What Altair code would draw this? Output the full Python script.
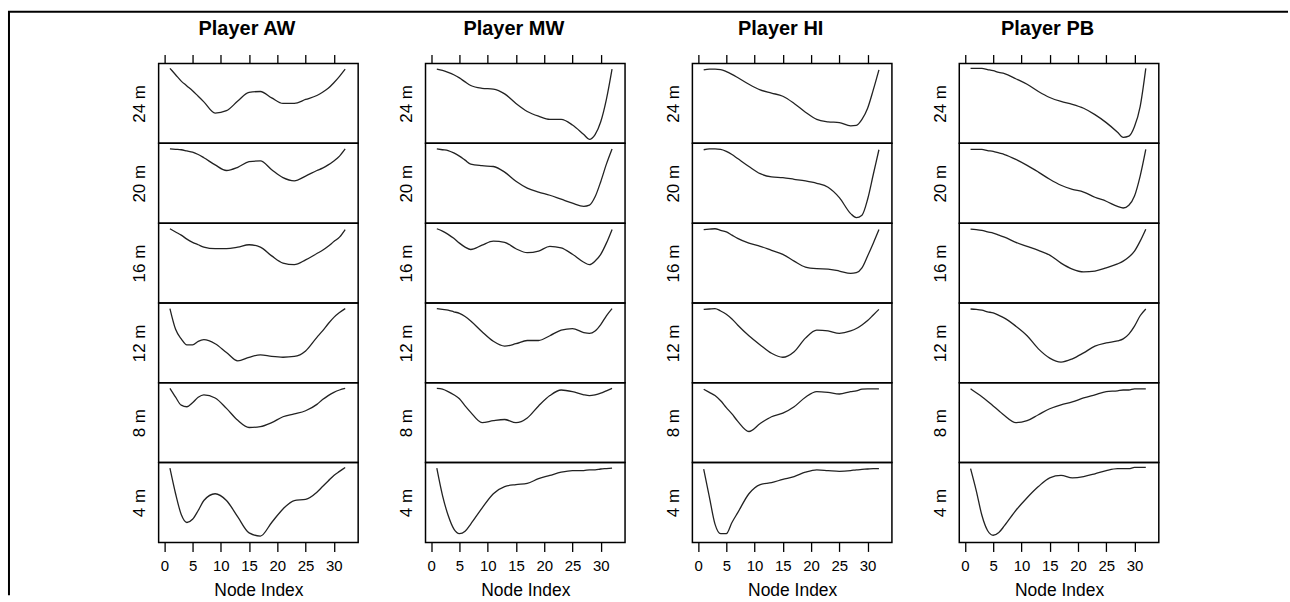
import altair as alt
import pandas as pd

# Players (columns) and the distances (rows) at which each profile was measured
players = ["AW", "MW", "HI", "PB"]
distances = ["24 m", "20 m", "16 m", "12 m", "8 m", "4 m"]

# Node indices at which each smoothed profile is sampled
nodes = [1, 2, 3, 4, 5, 6, 7, 9, 11, 13, 15, 17, 19, 21, 23, 25, 27, 28, 29, 30, 31, 32]
x_ticks = [0, 5, 10, 15, 20, 25, 30]

# Normalised profile values per distance (same order as `nodes`)
aw = {
    "24 m": [.94, .86, .78, .72, .66, .59, .52, .38, .41, .53, .64, .65, .57, .50, .50, .55, .60, .64, .69, .76, .84, .93],
    "20 m": [.93, .925, .92, .905, .89, .86, .82, .73, .66, .70, .77, .78, .67, .57, .53, .59, .66, .69, .73, .78, .84, .93],
    "16 m": [.93, .89, .85, .80, .76, .73, .70, .68, .68, .70, .73, .70, .59, .50, .48, .54, .62, .66, .71, .77, .825, .92],
    "12 m": [.93, .67, .55, .475, .475, .52, .54, .49, .38, .275, .32, .35, .33, .32, .33, .40, .57, .65, .74, .82, .88, .93],
    "8 m":  [.93, .82, .72, .70, .75, .82, .85, .81, .68, .53, .44, .45, .50, .575, .61, .65, .73, .79, .84, .88, .91, .93],
    "4 m":  [.93, .61, .35, .25, .29, .40, .525, .61, .525, .32, .12, .08, .25, .42, .525, .54, .63, .70, .77, .84, .89, .94],
}
mw = {
    "24 m": [.93, .915, .89, .86, .82, .77, .725, .69, .68, .62, .50, .40, .34, .30, .30, .23, .11, .05, .11, .27, .55, .93],
    "20 m": [.93, .92, .91, .88, .84, .79, .74, .72, .71, .64, .525, .44, .39, .35, .30, .25, .21, .225, .33, .52, .74, .93],
    "16 m": [.93, .90, .86, .81, .75, .70, .67, .725, .775, .76, .68, .63, .65, .71, .69, .61, .51, .48, .525, .61, .75, .92],
    "12 m": [.93, .92, .91, .89, .87, .83, .775, .64, .52, .46, .49, .53, .53, .59, .66, .68, .63, .62, .65, .73, .84, .93],
    "8 m":  [.93, .92, .89, .85, .80, .71, .63, .50, .525, .54, .50, .56, .71, .84, .91, .89, .85, .84, .85, .87, .90, .93],
    "4 m":  [.93, .59, .34, .17, .11, .14, .23, .43, .61, .70, .725, .74, .80, .84, .88, .90, .90, .91, .91, .92, .925, .93],
}
hi = {
    "24 m": [.92, .93, .93, .925, .90, .865, .825, .74, .67, .63, .59, .50, .39, .30, .27, .26, .22, .225, .30, .44, .67, .92],
    "20 m": [.92, .93, .93, .925, .90, .86, .81, .71, .62, .58, .57, .55, .53, .50, .45, .32, .12, .07, .10, .30, .61, .92],
    "16 m": [.92, .925, .93, .91, .89, .85, .81, .75, .71, .66, .61, .525, .45, .43, .425, .40, .37, .38, .44, .59, .75, .92],
    "12 m": [.92, .925, .93, .90, .86, .80, .725, .59, .475, .37, .32, .39, .56, .66, .65, .62, .65, .68, .725, .78, .85, .92],
    "8 m":  [.92, .88, .84, .775, .69, .61, .52, .39, .49, .575, .62, .70, .82, .89, .88, .86, .89, .90, .92, .925, .925, .925],
    "4 m":  [.92, .57, .23, .11, .11, .25, .37, .61, .725, .75, .79, .825, .88, .91, .90, .89, .90, .91, .915, .92, .925, .925],
}
pb = {
    "24 m": [.94, .94, .94, .925, .91, .89, .875, .81, .74, .65, .575, .525, .49, .44, .36, .26, .14, .075, .09, .21, .46, .94],
    "20 m": [.925, .925, .925, .91, .90, .88, .86, .80, .725, .64, .55, .475, .425, .39, .325, .275, .21, .19, .225, .34, .59, .925],
    "16 m": [.925, .92, .91, .89, .875, .85, .825, .76, .71, .66, .60, .50, .425, .39, .40, .44, .49, .525, .575, .65, .775, .925],
    "12 m": [.925, .92, .91, .89, .875, .845, .81, .71, .59, .425, .31, .26, .30, .375, .46, .50, .525, .55, .61, .71, .84, .925],
    "8 m":  [.925, .875, .825, .77, .71, .65, .59, .50, .525, .60, .675, .725, .76, .81, .85, .89, .90, .91, .91, .925, .925, .925],
    "4 m":  [.925, .65, .34, .15, .09, .125, .21, .40, .56, .70, .81, .84, .81, .825, .86, .90, .925, .925, .925, .94, .94, .94],
}
profiles = {"AW": aw, "MW": mw, "HI": hi, "PB": pb}

FONT = "Liberation Sans"
PANEL_W, PANEL_H = 200, 80

x_scale = alt.Scale(domain=[-1.0, 34.3], nice=False, zero=False)
y_scale = alt.Scale(domain=[0, 1], nice=False, zero=False)


def x_axis_for(player, first_row, last_row):
    if first_row:
        return alt.Axis(
            orient="top", values=x_ticks, labels=False, ticks=True, tickSize=9,
            title=f"Player {player}", titleFontSize=20, titleFontWeight="bold",
            titlePadding=15, titleX=88, titleAlign="center",
        )
    if last_row:
        return alt.Axis(
            orient="bottom", values=x_ticks, labels=True, labelFontSize=15,
            labelPadding=7, tickSize=9, labelFlush=False, labelOverlap=False,
            title="Node Index", titleFontSize=17.5, titleFontWeight="normal",
            titlePadding=8,
        )
    return None


def panel(player, dist, first_row, last_row):
    df = pd.DataFrame({"node": nodes, "value": profiles[player][dist]})
    line = alt.Chart(df).mark_line(
        interpolate="monotone", color="#222222", strokeWidth=1.3
    ).encode(
        x=alt.X("node:Q", scale=x_scale, axis=x_axis_for(player, first_row, last_row)),
        y=alt.Y(
            "value:Q", scale=y_scale,
            axis=alt.Axis(
                title=dist, labels=False, ticks=False, domain=False, grid=False,
                titleFontSize=17, titleFontWeight="normal", titlePadding=10,
                minExtent=0,
            ),
        ),
    )
    return line


frame_df = pd.DataFrame({"k": [0]})
# Page frame: a rule down the left edge and one across the top
left_rule = alt.Chart(frame_df).mark_rule(
    color="black", strokeWidth=2, strokeCap="butt"
).encode(x=alt.value(-150), y=alt.value(-52), y2=alt.value(533))
top_rule = alt.Chart(frame_df).mark_rule(
    color="black", strokeWidth=2, strokeCap="butt"
).encode(x=alt.value(-151), x2=alt.value(1132), y=alt.value(-52))

cells = []
for r, dist in enumerate(distances):
    for c, player in enumerate(players):
        p = panel(player, dist, r == 0, r == len(distances) - 1)
        if r == 0 and c == 0:
            p = alt.layer(p, left_rule, top_rule)
        cells.append(p.properties(width=PANEL_W, height=PANEL_H))

chart = alt.concat(
    *cells, columns=4, spacing={"row": 0, "column": 67.5}, bounds="flush"
).properties(
    padding={"left": 6, "top": 9, "right": 0, "bottom": 0},
    background="white",
).configure_view(
    stroke="black", strokeWidth=1.5
).configure_axis(
    labelFont=FONT, titleFont=FONT, labelColor="black", titleColor="black",
    tickColor="black", tickWidth=1.3, domain=False, grid=False,
)

chart.save("out.html", embed_options={"renderer": "svg", "actions": False})
